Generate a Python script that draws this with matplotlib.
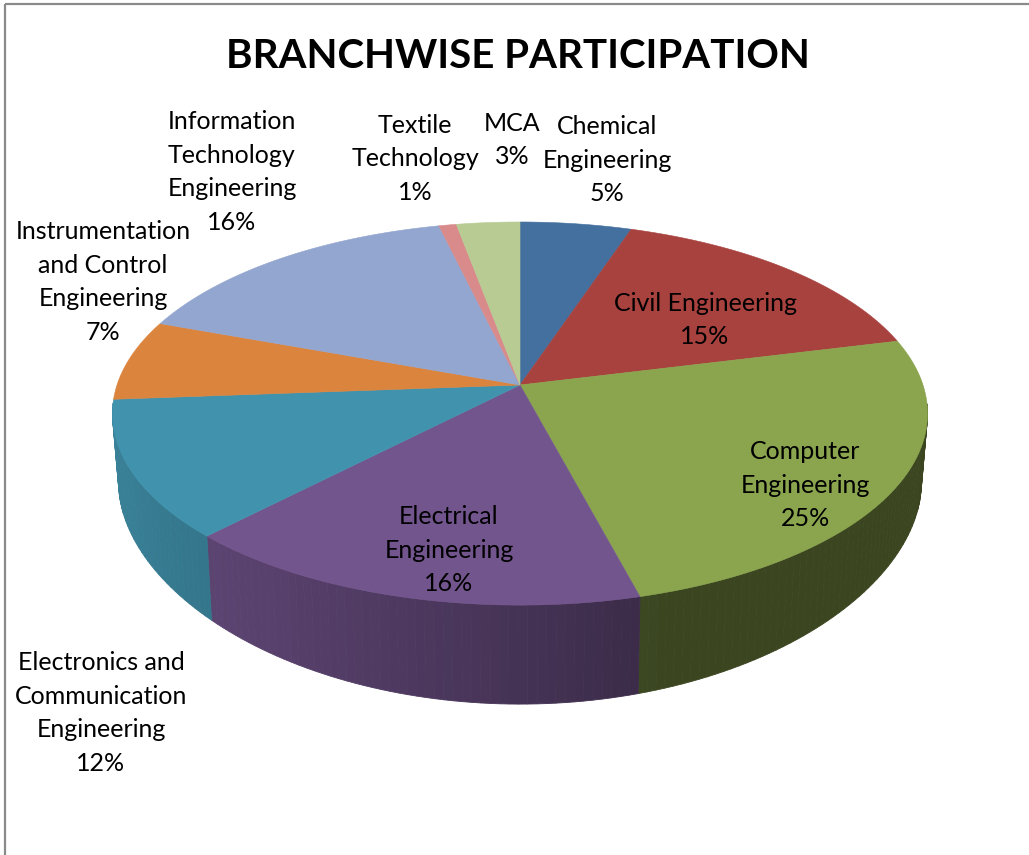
import numpy as np
import matplotlib
matplotlib.use("Agg")
import matplotlib.pyplot as plt
from matplotlib.patches import Rectangle

# slices as measured on the picture, clockwise from 12 o'clock
branches = ["Chemical\nEngineering", "Civil Engineering", "Computer\nEngineering",
            "Electrical\nEngineering", "Electronics and\nCommunication\nEngineering",
            "Instrumentation\nand Control\nEngineering",
            "Information\nTechnology\nEngineering", "Textile\nTechnology", "MCA"]
values = [5.1, 16.0, 24.8, 16.3, 11.6, 6.8, 15.7, 0.8, 2.9]
percents = ["5%", "15%", "25%", "16%", "12%", "7%", "16%", "1%", "3%"]
colors = ["#44709f", "#a8423f", "#8aa54e", "#73558e", "#4193ad",
          "#db843e", "#93a6cf", "#d98a8a", "#b7cb93"]
wall_scale = [1, 1, 0.85, 1, 1, 1, 1, 1, 1]
label_x = [607, 705, 805, 449, 101, 103, 232, 415, 512]
label_y = [160, 320, 485, 550, 713, 282, 172, 159, 140]

# pie geometry in pixels: apex, radii, perspective
cx, cy = 520, 385
a, b, d = 403, 187.3, 0.149

plt.rcParams["font.family"] = ["Lato", "DejaVu Sans"]


def top_rim(theta):
    sx, sy = np.sin(theta), np.cos(theta)
    w = 1 + d * sy
    return cx + a * sx / w, cy - b * sy / w


def bottom_rim(theta):
    x, y = top_rim(theta)
    sy = np.cos(theta)
    return cx + (x - cx) * 0.985, y + 68 + 31 * np.minimum(sy, 0) ** 2


def shade(theta):
    return np.interp(np.sin(theta), [-1, -0.5, 0, 0.3, 1], [0.88, 0.75, 0.6, 0.5, 0.5])


fig = plt.figure(figsize=(10.29, 8.55), dpi=100)
ax = fig.add_axes([0, 0, 1, 1])
ax.set_xlim(0, 1029)
ax.set_ylim(855, 0)
ax.axis("off")

ax.add_patch(Rectangle((5, 4.5), 1100, 1000, fill=False, edgecolor="#8a8a8a", linewidth=1.6))

edges = 2 * np.pi * np.cumsum([0] + values) / sum(values)

# outer wall, cut in thin strips to get the shading
for i, col in enumerate(colors):
    base = np.array(matplotlib.colors.to_rgb(col)) * wall_scale[i]
    n = max(int((edges[i + 1] - edges[i]) / 0.02), 2)
    t = np.linspace(edges[i], edges[i + 1], n + 1)
    for t0, t1 in zip(t[:-1], t[1:]):
        if np.cos(t0) > -0.1 and np.cos(t1) > -0.1:
            continue
        tt = np.array([t0, t1])
        xt, yt = top_rim(tt)
        xb, yb = bottom_rim(tt)
        c = base * shade((t0 + t1) / 2)
        ax.fill([xt[0], xt[1], xb[1], xb[0]], [yt[0], yt[1], yb[1], yb[0]],
                color=c, linewidth=0.6, zorder=2)

# top face
for i, col in enumerate(colors):
    t = np.linspace(edges[i], edges[i + 1], 80)
    x, y = top_rim(t)
    ax.fill(np.r_[cx, x], np.r_[cy, y], color=col, linewidth=0.4, zorder=3)

for name, pct, x, y in zip(branches, percents, label_x, label_y):
    ax.text(x, y, f"{name}\n{pct}", ha="center", va="center", fontsize=18,
            linespacing=1.55, color="black", zorder=5)

ax.text(518, 56, "BRANCHWISE PARTICIPATION", ha="center", va="center",
        fontsize=29, fontweight="bold", color="black", zorder=5)

fig.savefig("out.png", dpi=100)
